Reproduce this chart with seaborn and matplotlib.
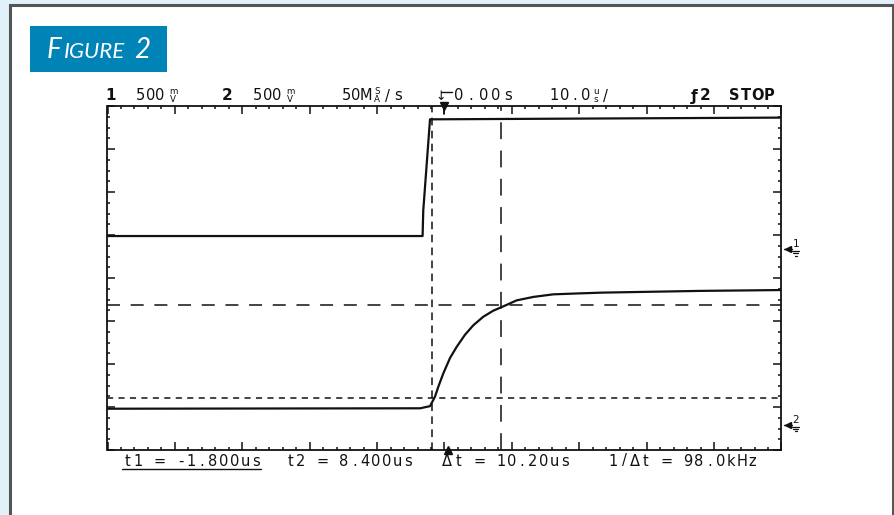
"""Scope capture: step input (ch1) and RC response (ch2) with rise-time cursors."""

import matplotlib.pyplot as plt
from matplotlib.lines import Line2D
from matplotlib.patches import Rectangle
import pandas as pd
import seaborn as sns

# values: time in us, level in V above the channel ground
CH1_T = [-50, -3.25, -3.15, -2.15, 50]
CH1_V = [0.153, 0.153, 0.45, 1.51, 1.53]
CH2_T = [-50, -3.6, -2.15, -1.41, -0.92, -0.18, 0.82, 1.81, 3.04, 4.27, 5.76,
         7.24, 8.72, 10.71, 13.18, 16.14, 19.6, 23.4, 37.9, 50]
CH2_V = [0.19, 0.195, 0.22, 0.33, 0.445, 0.60, 0.78, 0.91, 1.05, 1.16, 1.26,
         1.33, 1.38, 1.45, 1.49, 1.52, 1.53, 1.54, 1.56, 1.57]
CURSOR_T = [-1.8, 8.4]      # t1, t2
CURSOR_V = [0.32, 1.40]     # ch2 levels
READOUT = ["t1 = -1.800us", "t2 = 8.400us", "Δt = 10.20us", "1/Δt = 98.0kHz"]

VOLTS_PER_DIV = 0.5
GND_DIV = {"1": 0.67, "2": -3.42}

W, H = 895, 515
INK = "#111111"


def fx(x):
    return x / W


def fy(y):
    return 1 - y / H


def scope_text(fig, x, y, s, pitch=10.0, size=10.5, weight="normal"):
    # the scope font is fixed pitch, so place each glyph in its own cell
    for i, ch in enumerate(s):
        if ch != " ":
            fig.text(fx(x + (i + 0.5) * pitch), fy(y), ch, ha="center", va="center",
                     fontsize=size, fontweight=weight, color=INK, family="DejaVu Sans")
    return x + len(s) * pitch


def stacked(fig, x, y, top, bottom, size=6.3):
    # unit glyphs drawn as two small letters one above the other
    fig.text(fx(x), fy(y - 1.8), top, ha="center", va="baseline", fontsize=size, color=INK)
    fig.text(fx(x), fy(y + 5.8), bottom, ha="center", va="baseline", fontsize=size, color=INK)


sns.set_theme(style="white")
plt.rcParams["font.family"] = ["DejaVu Sans"]

fig = plt.figure(figsize=(W / 100, H / 100), dpi=100)
fig.patch.set_facecolor("#e0f1f9")

# white page with dark frame, and the blue caption tab
fig.add_artist(Rectangle((fx(10), -0.05), (883) / W, fy(5) + 0.05, transform=fig.transFigure,
                         facecolor="white", edgecolor="#555555", lw=2.2, zorder=0))
fig.add_artist(Rectangle((fx(30), fy(72)), 137 / W, 46 / H, transform=fig.transFigure,
                         facecolor="#0083b6", edgecolor="none", zorder=1))
cap = dict(color="white", style="italic", family="Lato", va="baseline", ha="left", zorder=2)
fig.text(fx(47), fy(58), "F", fontsize=20, **cap)
fig.text(fx(64), fy(58), "IGURE", fontsize=16, **cap)
fig.text(fx(134), fy(58), "2", fontsize=20, **cap)

ax = fig.add_axes([fx(107.5), fy(450), 674 / W, 344 / H])

frames = []
for ch, t, v in (("1", CH1_T, CH1_V), ("2", CH2_T, CH2_V)):
    d = pd.DataFrame({"t": t, "v": v, "ch": ch})
    d["div"] = d["v"] / VOLTS_PER_DIV + GND_DIV[ch]
    frames.append(d)
traces = pd.concat(frames, ignore_index=True)

sns.lineplot(data=traces, x="t", y="div", hue="ch", units="ch", estimator=None,
             sort=False, palette={"1": INK, "2": INK}, lw=1.6, legend=False, ax=ax)

# rise-time cursors
ax.axvline(CURSOR_T[0], color=INK, lw=1.1, ls=(0, (5, 3.5)))
ax.axvline(CURSOR_T[1], color=INK, lw=1.1, ls=(0, (11, 7.5)))
ax.axhline(CURSOR_V[0] / VOLTS_PER_DIV + GND_DIV["2"], color=INK, lw=1.1, ls=(0, (4, 3.5)))
ax.axhline(CURSOR_V[1] / VOLTS_PER_DIV + GND_DIV["2"], color=INK, lw=1.1, ls=(0, (8.5, 7)))

ax.set_xlim(-50, 50)
ax.set_ylim(-4, 4)
ax.set_xticks(range(-50, 51, 10))
ax.set_xticks(range(-50, 51, 2), minor=True)
ax.set_yticks(range(-4, 5))
ax.set_yticks([i / 4 for i in range(-16, 17)], minor=True)
ax.tick_params(which="both", direction="in", top=True, right=True, bottom=True, left=True,
               labelbottom=False, labelleft=False, color=INK, width=1.1)
ax.tick_params(which="major", length=6)
ax.tick_params(which="minor", length=2.5)
ax.set_xlabel("")
ax.set_ylabel("")
for sp in ax.spines.values():
    sp.set_color(INK)
    sp.set_linewidth(1.3)

# trigger / delay markers on the top and bottom edge
ax.plot([0], [4], marker="v", ms=6, color=INK, clip_on=False)
ax.plot([0, 0], [4, 3.82], color=INK, lw=1.2, clip_on=False)
ax.plot([0.5], [-4], marker="^", ms=6, color=INK, clip_on=False)

# channel ground markers on the right edge
for ch, gnd in GND_DIV.items():
    ax.plot([50.9], [gnd], marker="<", ms=5, color=INK, clip_on=False)
    ax.plot([50.3, 51.6], [gnd, gnd], color=INK, lw=1, clip_on=False)
    ypx = 278 - gnd * 43
    fig.text(fx(796), fy(ypx - 5), ch, ha="center", va="center", fontsize=7.5, color=INK)
    for k, half in enumerate((3.5, 2.5, 1.0)):
        yy = fy(ypx + 2 + 2.2 * k)
        fig.add_artist(Line2D([fx(796 - half), fx(796 + half)], [yy, yy],
                              transform=fig.transFigure, color=INK, lw=0.9))

# header line
hy = 96
scope_text(fig, 106, hy, "1", pitch=9, size=11, weight="bold")
scope_text(fig, 136, hy, "500", pitch=9.5)
stacked(fig, 173, hy, "m", "V")
scope_text(fig, 223, hy, "2", pitch=9, size=11, weight="bold")
scope_text(fig, 253, hy, "500", pitch=9.5)
stacked(fig, 290, hy, "m", "V")
scope_text(fig, 341, hy, "50M", pitch=10)
stacked(fig, 377, hy, "S", "A")
scope_text(fig, 382, hy, "/s", pitch=10.5)
fig.text(fx(441), fy(hy + 1), "↓", ha="center", va="center", fontsize=9, color=INK)
fig.add_artist(Line2D([fx(441), fx(452)], [fy(hy - 4), fy(hy - 4)],
                      transform=fig.transFigure, color=INK, lw=1))
scope_text(fig, 452, hy, "0.00s", pitch=12.5)
scope_text(fig, 549, hy, "10.0", pitch=10.5)
stacked(fig, 596, hy, "u", "s")
scope_text(fig, 601, hy, "/", pitch=9)
scope_text(fig, 689, hy, "ƒ2", pitch=11, size=11, weight="bold")
scope_text(fig, 729, hy, "STOP", pitch=11.3, size=10.5, weight="bold")

# cursor readout line
ry = 461
starts = [122, 285, 442, 608]
for s, x0 in zip(READOUT, starts):
    end = scope_text(fig, x0, ry, s, pitch=10.7)
    if s.startswith("t1"):
        fig.add_artist(Line2D([fx(x0), fx(end)], [fy(469), fy(469)],
                              transform=fig.transFigure, color=INK, lw=1))

fig.savefig("out.png", dpi=100, facecolor=fig.get_facecolor())
